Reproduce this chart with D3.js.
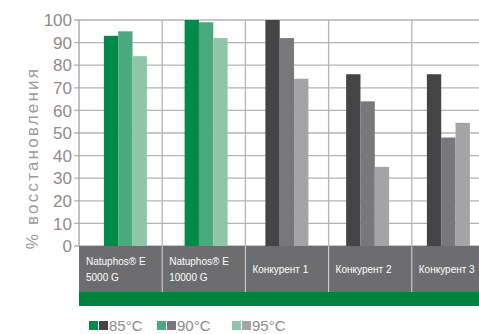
<!DOCTYPE html>
<html lang="ru">
<head>
  <meta charset="UTF-8">
  <title>% восстановления</title>
  <script src="https://d3js.org/d3.v7.min.js"></script>
  <style>
    body { margin: 0; background: #fff; }
    text { font-family: "Liberation Sans", Arial, sans-serif; }
  </style>
</head>
<body>
  <div id="chart"></div>
  <script>
    // data
    const categories = ["Natuphos® E|5000 G", "Natuphos® E|10000 G", "Конкурент 1", "Конкурент 2", "Конкурент 3"];
    const temps = ["85°C", "90°C", "95°C"];
    const values85 = [93, 100, 100, 76, 76];
    const values90 = [95, 99, 92, 64, 48];
    const values95 = [84, 92, 74, 35, 54.5];
    const yTicks = [0, 10, 20, 30, 40, 50, 60, 70, 80, 90, 100];

    const greens = ["#008a47", "#4ba97e", "#8fc6a7"];
    const grays = ["#454547", "#78787b", "#a4a4a6"];

    const width = 479, height = 334;
    const svg = d3.select("#chart").append("svg")
      .attr("width", width)
      .attr("height", height);

    const plotLeft = 79, plotTop = 20, plotBottom = 246;

    const y = d3.scaleLinear().domain([0, 100]).range([plotBottom, plotTop]);

    // cells of the category row (and vertical grid lines)
    const xCell = d3.scaleBand().domain(categories).range([plotLeft, plotLeft + 5 * 83.2]);
    // bar groups
    const xGroup = d3.scaleBand().domain(categories).range([85, 85 + 5 * 80.75]);
    const xBar = d3.scaleBand().domain(temps).range([0, 43]);

    // horizontal grid
    svg.append("g")
      .selectAll("line")
      .data(yTicks)
      .join("line")
      .attr("x1", plotLeft - 5)
      .attr("x2", width)
      .attr("y1", d => y(d))
      .attr("y2", d => y(d))
      .attr("stroke", "#b4b4b4")
      .attr("stroke-width", 1.3);

    // vertical grid
    svg.append("g")
      .selectAll("line")
      .data(categories.slice(1))
      .join("line")
      .attr("x1", d => xCell(d))
      .attr("x2", d => xCell(d))
      .attr("y1", plotTop)
      .attr("y2", plotBottom)
      .attr("stroke", "#b4b4b4")
      .attr("stroke-width", 1.3);

    svg.append("line")
      .attr("x1", plotLeft).attr("x2", plotLeft)
      .attr("y1", plotTop).attr("y2", plotBottom)
      .attr("stroke", "#a0a0a0").attr("stroke-width", 1.3);

    // bars
    const series = [values85, values90, values95];
    categories.forEach((c, ci) => {
      const pal = ci < 2 ? greens : grays;
      svg.append("g")
        .selectAll("rect")
        .data(temps)
        .join("rect")
        .attr("x", t => xGroup(c) + (xGroup.bandwidth() - 43) / 2 + xBar(t))
        .attr("width", xBar.bandwidth())
        .attr("y", (t, i) => y(series[i][ci]))
        .attr("height", (t, i) => plotBottom - y(series[i][ci]))
        .attr("fill", (t, i) => pal[i]);
    });

    // y tick labels
    svg.append("g")
      .selectAll("text")
      .data(yTicks)
      .join("text")
      .attr("x", 72)
      .attr("y", d => y(d))
      .attr("dy", "0.36em")
      .attr("text-anchor", "end")
      .attr("font-size", 17)
      .attr("fill", "#8c8c8c")
      .text(d => d);

    // y axis title
    svg.append("text")
      .attr("transform", `translate(38, 158) rotate(-90)`)
      .attr("text-anchor", "middle")
      .attr("font-size", 17)
      .attr("letter-spacing", 2.2)
      .attr("fill", "#9a9a9a")
      .text("% восстановления");

    // category row
    svg.append("rect")
      .attr("x", plotLeft).attr("y", plotBottom)
      .attr("width", width - plotLeft).attr("height", 46)
      .attr("fill", "#6d6d6f");
    svg.append("g")
      .selectAll("line")
      .data(categories.slice(1))
      .join("line")
      .attr("x1", d => xCell(d))
      .attr("x2", d => xCell(d))
      .attr("y1", plotBottom)
      .attr("y2", plotBottom + 46)
      .attr("stroke", "#d8d8d8")
      .attr("stroke-width", 1);

    const labels = svg.append("g")
      .selectAll("text")
      .data(categories)
      .join("text")
      .attr("x", d => xCell(d) + 7)
      .attr("y", plotBottom + 23)
      .attr("font-size", 10)
      .attr("fill", "#ffffff");
    labels.each(function (d) {
      const parts = d.split("|");
      const t = d3.select(this);
      parts.forEach((p, i) => {
        t.append("tspan")
          .attr("x", xCell(d) + 7)
          .attr("dy", parts.length === 1 ? "0.35em" : (i === 0 ? "-0.45em" : "1.6em"))
          .text(p);
      });
    });

    // green band
    svg.append("rect")
      .attr("x", plotLeft).attr("y", plotBottom + 46)
      .attr("width", width - plotLeft).attr("height", 14)
      .attr("fill", "#00823f");

    // legend
    const legendX = [89, 157, 232];
    const legend = svg.append("g")
      .selectAll("g")
      .data(temps)
      .join("g")
      .attr("transform", (d, i) => `translate(${legendX[i]}, 321)`);
    legend.append("rect")
      .attr("width", 9).attr("height", 9)
      .attr("fill", (d, i) => greens[i]);
    legend.append("rect")
      .attr("x", 10)
      .attr("width", 9).attr("height", 9)
      .attr("fill", (d, i) => grays[i]);
    legend.append("text")
      .attr("x", 20)
      .attr("y", 5)
      .attr("dy", "0.36em")
      .attr("font-size", 15)
      .attr("fill", "#8c8c8c")
      .text(d => d);
  </script>
</body>
</html>
